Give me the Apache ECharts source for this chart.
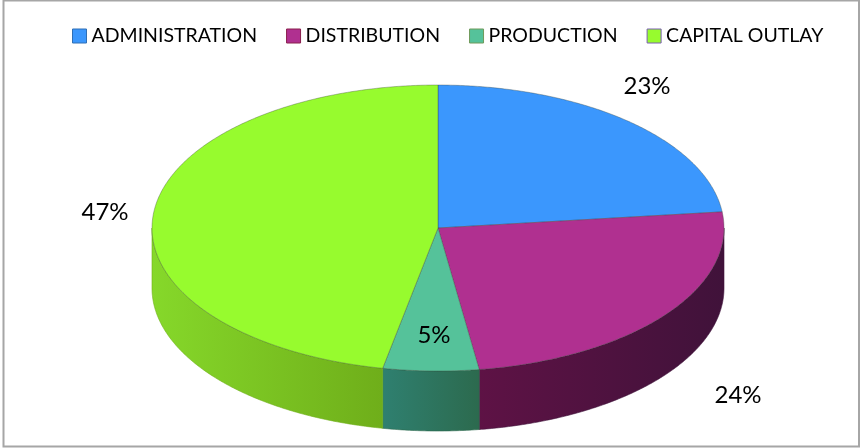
<!DOCTYPE html>
<html>
<head>
<meta charset="utf-8">
<style>html,body{margin:0;padding:0;background:#fff}#c{width:861px;height:448px}</style>
<script src="https://cdn.jsdelivr.net/npm/echarts@6/dist/echarts.min.js"></script>
</head>
<body>
<div id="c"></div>
<script>
const categories = ['ADMINISTRATION', 'DISTRIBUTION', 'PRODUCTION', 'CAPITAL OUTLAY'];
const values = [23.2, 24.5, 5.4, 46.9];
const percentLabels = ['23%', '24%', '5%', '47%'];

const topColors = ['#3b97fd', '#b03090', '#55c29a', '#97fb2e'];
const legendBorders = ['#2f6fb5', '#8a1f4d', '#6f9a5a', '#7a5fb0'];
const wallColors = [
  ['#2a6ab0', '#2a6ab0'],
  ['#5e1245', '#40123a'],
  ['#2f8070', '#2c6a4e'],
  ['#86d82a', '#6fae1a']
];
const labelPos = [[647, 86], [738, 395], [434, 335], [105, 212]];
const pie = { cx: 438, cy: 228, rx: 286, ry: 143, depth: 60 };

const total = values.reduce((a, b) => a + b, 0);
const starts = values.map((_, i) => values.slice(0, i).reduce((a, b) => a + b, 0) / total * 360);

function pt(deg, dy) {
  const t = deg * Math.PI / 180;
  return [pie.cx + pie.rx * Math.sin(t), pie.cy - pie.ry * Math.cos(t) + (dy || 0)];
}
function arc(a0, a1, dy) {
  const pts = [];
  const n = Math.max(2, Math.ceil((a1 - a0) * 2));
  for (let k = 0; k <= n; k++) pts.push(pt(a0 + (a1 - a0) * k / n, dy));
  return pts;
}
function makeRender(i) {
  return function (params, api) {
    const a0 = starts[i];
    const a1 = a0 + api.value(0) / total * 360;
    const children = [];
    const w0 = Math.max(a0, 90), w1 = Math.min(a1, 270);
    if (w1 > w0) {
      const upper = arc(w0, w1, 0);
      const lower = arc(w0, w1, pie.depth).reverse();
      children.push({
        type: 'polygon',
        shape: { points: upper.concat(lower) },
        style: {
          fill: new echarts.graphic.LinearGradient(0, 0, 1, 0, [
            { offset: 0, color: wallColors[i][0] },
            { offset: 1, color: wallColors[i][1] }
          ]),
          stroke: wallColors[i][1],
          lineWidth: 0.6
        }
      });
    }
    children.push({
      type: 'polygon',
      shape: { points: [[pie.cx, pie.cy]].concat(arc(a0, a1, 0)) },
      style: { fill: topColors[i], stroke: 'rgba(60,70,60,0.45)', lineWidth: 0.8 }
    });
    children.push({
      type: 'text',
      z2: 10,
      style: {
        x: labelPos[i][0],
        y: labelPos[i][1],
        text: percentLabels[i],
        align: 'center',
        verticalAlign: 'middle',
        fill: '#000',
        font: '24px Lato'
      }
    });
    return { type: 'group', children };
  };
}

const chart = echarts.init(document.getElementById('c'));
chart.setOption({
  animation: false,
  backgroundColor: '#fff',
  legend: {
    left: 72,
    top: 26,
    padding: 0,
    itemWidth: 14,
    itemHeight: 14,
    itemGap: 29,
    icon: 'rect',
    data: categories.map((name, i) => ({
      name,
      itemStyle: { color: topColors[i], borderColor: legendBorders[i], borderWidth: 1 }
    })),
    textStyle: { color: '#000', fontSize: 19.5, fontFamily: 'Lato', padding: [0, 0, 0, 0] },
    selectedMode: false
  },
  graphic: [{
    type: 'rect',
    silent: true,
    shape: { x: 3.5, y: 0.5, width: 855.5, height: 446 },
    style: { fill: 'transparent', stroke: '#a6a6a6', lineWidth: 2 }
  }],
  series: categories.map((name, i) => ({
    type: 'custom',
    name,
    coordinateSystem: 'none',
    itemStyle: { color: topColors[i] },
    renderItem: makeRender(i),
    data: [[values[i]]]
  }))
});
</script>
</body>
</html>
